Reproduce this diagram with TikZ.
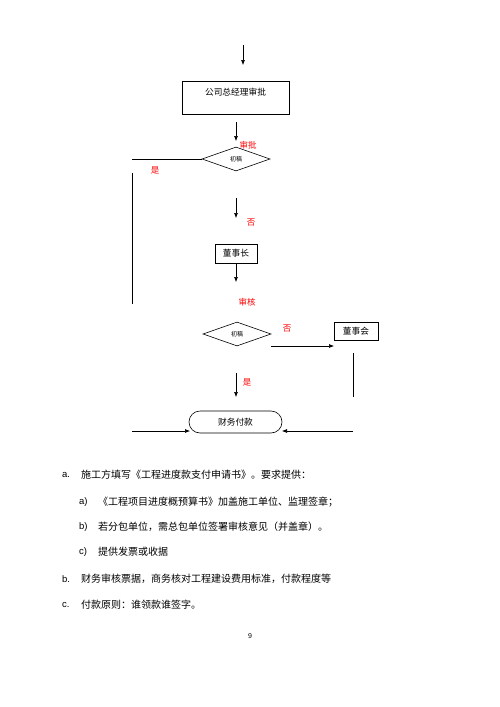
\documentclass[tikz,border=0pt]{standalone}
\usepackage{fontspec}
\setmainfont{Liberation Sans}
\newfontfamily\cjk{Noto Sans CJK SC}
\usetikzlibrary{shapes.geometric,arrows.meta}
\tikzset{
  flowbox/.style={draw, line width=0.6pt, inner sep=0pt, font=\cjk\fontsize{8.7}{10}\selectfont},
  decision/.style={draw, diamond, line width=0.6pt, inner sep=0pt, minimum width=68pt, minimum height=24pt, font=\cjk\fontsize{6}{7}\selectfont},
  flowarrow/.style={-{Latex[length=5pt,width=4pt]}, line width=0.6pt},
  flowline/.style={line width=0.6pt},
  redlabel/.style={text=red, inner sep=0pt, font=\cjk\fontsize{8.5}{10}\selectfont},
  itemmark/.style={anchor=west, inner sep=0pt, font=\fontsize{9.5}{11}\selectfont},
  itemtext/.style={anchor=west, inner sep=0pt, font=\cjk\fontsize{10}{12}\selectfont},
}
\begin{document}
\begin{tikzpicture}[x=1pt,y=-1pt]
    \useasboundingbox (0,0) rectangle (500,707);
    % general manager
    \coordinate (topin) at (243,45);
    \coordinate (topout) at (243,65);
    \draw[flowarrow] (topin) -- (topout);
    \node[flowbox, minimum width=107pt, text height=13.8pt, text depth=19.2pt] (gm) at (235.5,98) {公司总经理审批};
    \coordinate (gmout) at (236,122);
    \coordinate (dain) at (236,141);
    \draw[flowarrow] (gmout) -- (dain);
    \node[redlabel] (approve) at (248,145) {审批};
    \node[decision] (da) at (236,159) {初稿};
    \coordinate (yesturn) at (132,159);
    \draw[flowline] (da.west) -- (yesturn);
    \node[redlabel] (yesa) at (155,170) {是};
    \coordinate (yestop) at (132,173);
    \coordinate (yesbottom) at (132,304);
    \draw[flowline] (yestop) -- (yesbottom);
    \coordinate (noin) at (236,198);
    \coordinate (noout) at (236,218);
    \draw[flowarrow] (noin) -- (noout);
    \node[redlabel] (noa) at (251,223) {否};
    % chairman
    \node[flowbox, minimum width=42pt, minimum height=19pt] (chair) at (236,253.5) {董事长};
    \coordinate (chairout) at (236,282);
    \draw[flowarrow] (chair.south) -- (chairout);
    \node[redlabel] (review) at (247,302) {审核};
    \node[decision] (db) at (237,334) {初稿};
    \node[redlabel] (nob) at (287,329) {否};
    \coordinate (boardin) at (271,346);
    \coordinate (boardout) at (334,346);
    \draw[flowarrow] (boardin) -- (boardout);
    \node[flowbox, minimum width=44pt, minimum height=18pt] (board) at (356,331) {董事会};
    \coordinate (boardtop) at (353,353);
    \coordinate (boardbottom) at (353,397);
    \draw[flowline] (boardtop) -- (boardbottom);
    \coordinate (yesbin) at (236,373);
    \coordinate (yesbout) at (236,397);
    \draw[flowarrow] (yesbin) -- (yesbout);
    \node[redlabel] (yesb) at (247,382) {是};
    % payment
    \node[flowbox, rounded corners=11pt, minimum width=93pt, minimum height=22pt] (pay) at (235.5,422) {财务付款};
    \coordinate (leftin) at (132,431);
    \coordinate (leftout) at (190,431);
    \draw[flowarrow] (leftin) -- (leftout);
    \coordinate (rightin) at (353,431);
    \coordinate (rightout) at (282,431);
    \draw[flowarrow] (rightin) -- (rightout);
    % notes
    \node[itemmark] (ma) at (62,475) {a.};
    \node[itemtext] (ta) at (81,475) {施工方填写《工程进度款支付申请书》。要求提供：};
    \node[itemmark] (maa) at (79,502) {a)};
    \node[itemtext] (taa) at (98,502) {《工程项目进度概预算书》加盖施工单位、监理签章；};
    \node[itemmark] (mab) at (79,527) {b)};
    \node[itemtext] (tab) at (98,527) {若分包单位，需总包单位签署审核意见（并盖章）。};
    \node[itemmark] (mac) at (79,552) {c)};
    \node[itemtext] (tac) at (98,552) {提供发票或收据};
    \node[itemmark] (mb) at (62,579) {b.};
    \node[itemtext] (tb) at (81,579) {财务审核票据，商务核对工程建设费用标准，付款程度等};
    \node[itemmark] (mc) at (62,605) {c.};
    \node[itemtext] (tc) at (81,605) {付款原则：谁领款谁签字。};
    \node[inner sep=0pt, font=\fontsize{7}{8}\selectfont] (page) at (250,636) {9};
\end{tikzpicture}
\end{document}
